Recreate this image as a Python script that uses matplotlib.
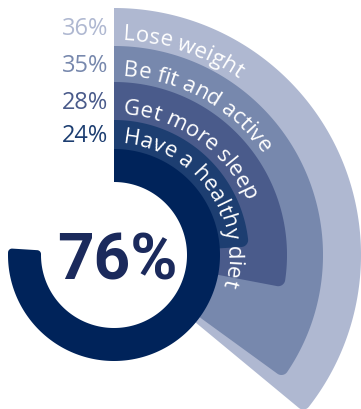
import numpy as np
import matplotlib
matplotlib.use("Agg")
import matplotlib.pyplot as plt
from matplotlib.patches import Polygon
from matplotlib.font_manager import FontProperties
from matplotlib.textpath import TextToPath

# data
labels = ["Lose weight", "Be fit and active", "Get more sleep", "Have a healthy diet"]
values = [36, 35, 28, 24]
total_value = 76

wedge_colors = ["#AFB8D1", "#7788AD", "#4A5B8B", "#1D3E71"]
ring_color = "#00235A"
big_text_color = "#1B2A5C"

FONT = "Open Sans"
DPI = 100
CX, CY = 114, 154               # centre of the rings, pixel units (y up)
radii = [247, 209, 173, 135]    # outer radius of each wedge
ring_in, ring_out = 73, 106


def _dir(deg):
    a = np.radians(deg)
    return np.array([np.cos(a), np.sin(a)])


def sector(r_in, r_out, end_deg, rho_out=0.0, rho_in=0.0, start_deg=90.0):
    """Annular sector going clockwise from start_deg to end_deg, rounded at the end."""
    pts = []
    d_out = np.degrees(np.arcsin(rho_out / (r_out - rho_out))) if rho_out else 0.0
    a = np.radians(np.linspace(start_deg, end_deg + d_out, 300))
    pts += list(zip(r_out * np.cos(a), r_out * np.sin(a)))
    if rho_out:
        c = (r_out - rho_out) * _dir(end_deg + d_out)
        phi = np.radians(np.linspace(end_deg + d_out, end_deg - 90, 30))
        pts += list(zip(c[0] + rho_out * np.cos(phi), c[1] + rho_out * np.sin(phi)))
    d_in = np.degrees(np.arcsin(rho_in / (r_in + rho_in))) if rho_in else 0.0
    if rho_in:
        c = (r_in + rho_in) * _dir(end_deg + d_in)
        phi = np.radians(np.linspace(end_deg - 90, end_deg + d_in - 180, 30))
        pts += list(zip(c[0] + rho_in * np.cos(phi), c[1] + rho_in * np.sin(phi)))
    a = np.radians(np.linspace(end_deg + d_in, start_deg, 300))
    pts += list(zip(r_in * np.cos(a), r_in * np.sin(a)))
    return np.array(pts) + [CX, CY]


t2p = TextToPath()


def advance_px(s, prop):
    w, _, _ = t2p.get_text_width_height_descent(s + "|", prop, ismath=False)
    w0, _, _ = t2p.get_text_width_height_descent("|", prop, ismath=False)
    return (w - w0) * DPI / 72.0


def curved_text(ax, text, r, start_offset, prop, color):
    theta0 = np.pi / 2 - start_offset / r
    for i, ch in enumerate(text):
        if ch == " ":
            continue
        mid = 0.5 * (advance_px(text[:i], prop) + advance_px(text[:i + 1], prop))
        ang = theta0 - mid / r
        x, y = CX + r * np.cos(ang), CY + r * np.sin(ang)
        ax.text(x, y, ch, fontproperties=prop, color=color,
                rotation=np.degrees(ang) - 90, rotation_mode="anchor",
                ha="center", va="baseline", zorder=5)


fig = plt.figure(figsize=(3.61, 4.10), dpi=DPI)
ax = fig.add_axes([0, 0, 1, 1])
ax.set_xlim(0, 361)
ax.set_ylim(0, 410)
ax.set_aspect("equal")
ax.axis("off")

# wedges, largest first
for v, r, col in zip(values, radii, wedge_colors):
    end = 90 - 3.6 * v
    ax.add_patch(Polygon(sector(90, r, end, rho_out=7), closed=True,
                         facecolor=col, edgecolor="none", zorder=1))

# total ring
ring_end = 90 - 3.6 * total_value
ax.add_patch(Polygon(sector(ring_in, ring_out, ring_end, rho_out=4, rho_in=4),
                     closed=True, facecolor=ring_color, edgecolor="none", zorder=3))

# labels
label_prop = FontProperties(family=FONT, size=16)
pct_prop = FontProperties(family=FONT, size=17)
inner_radii = radii[1:] + [ring_out]
for lab, v, r_in, r_out, col in zip(labels, values, inner_radii, radii, wedge_colors):
    curved_text(ax, lab, r_in + 7, 9, label_prop, "white")
    band_mid = 0.5 * (r_in + r_out)
    ax.text(108, CY + band_mid - 7, f"{v}%", ha="right", va="baseline",
            fontproperties=pct_prop, color=col, zorder=5)

ax.text(CX + 3, CY - 24, f"{total_value}%", ha="center", va="baseline",
        family="Roboto", fontsize=46, fontweight="bold", color=big_text_color, zorder=5)

fig.savefig("out.png", dpi=DPI)
